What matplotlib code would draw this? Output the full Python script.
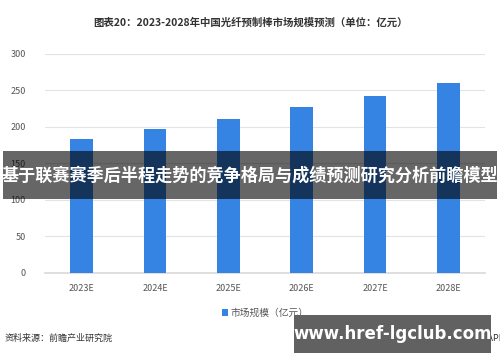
import matplotlib.pyplot as plt

plt.rcParams['font.family'] = ['Noto Sans CJK SC', 'DejaVu Sans']

years = ["2023E", "2024E", "2025E", "2026E", "2027E", "2028E"]
market_size = [184, 197, 211, 227, 243, 260]

fig = plt.figure(figsize=(5, 3.62), dpi=100)
ax = fig.add_axes([0.09, 0.246, 0.88, 0.605])

ax.bar(years, market_size, width=0.31, color="#3584e4", zorder=3, label="市场规模（亿元）")
ax.set_ylim(0, 300)
ax.set_yticks(range(0, 301, 50))
ax.set_xlim(-0.5, 5.5)
ax.grid(axis="y", color="#e3e3e3", linewidth=0.8, zorder=0)
for s in ["top", "right", "left"]:
    ax.spines[s].set_visible(False)
ax.spines["bottom"].set_color("#d9d9d9")
ax.spines["bottom"].set_linewidth(1.2)
ax.tick_params(length=0, labelsize=6.5, labelcolor="#555555")
ax.tick_params(axis="x", pad=8)
ax.tick_params(axis="y", pad=14)

fig.text(0.5, 0.938, "图表20：2023-2028年中国光纤预制棒市场规模预测（单位：亿元）",
         ha="center", va="center", fontsize=7.5, fontweight="bold", color="#333333")

ax.legend(loc="upper center", bbox_to_anchor=(0.5, -0.12), frameon=False,
          fontsize=7, handlelength=0.7, handleheight=0.7, handletextpad=0.2,
          labelcolor="#555555")

fig.text(0.01, 0.066, "资料来源：前瞻产业研究院", ha="left", va="center",
         fontsize=6.5, color="#333333")
fig.text(1.01, 0.066, "@前瞻经济学人APP", ha="right", va="center",
         fontsize=6.5, color="#333333")

# overlay banners
fig.patches.append(plt.Rectangle((0.006, 0.45), 0.988, 0.133, transform=fig.transFigure,
                                 facecolor="black", edgecolor="none", alpha=0.6, zorder=10))
fig.text(0.5, 0.516, "基于联赛赛季后半程走势的竞争格局与成绩预测研究分析前瞻模型",
         ha="center", va="center", fontsize=12.3, fontweight="bold", color="white", zorder=11)
fig.patches.append(plt.Rectangle((0.588, 0.025), 0.394, 0.105, transform=fig.transFigure,
                                 facecolor="#616161", edgecolor="none", zorder=10))
fig.text(0.785, 0.077, "www.href-lgclub.com", ha="center", va="center",
         fontsize=12, fontweight="bold", color="white", family="DejaVu Sans", zorder=11)

fig.savefig("out.png", dpi=100)
